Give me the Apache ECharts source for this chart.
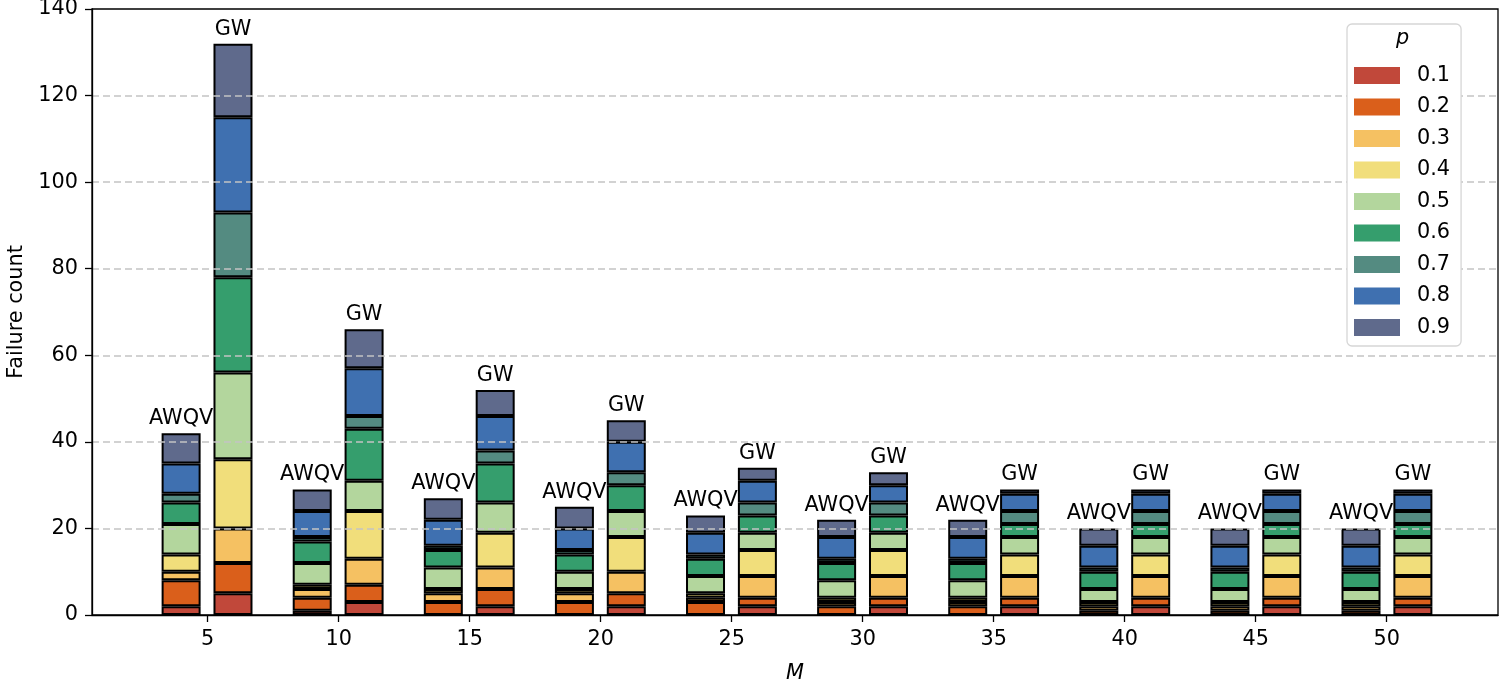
<!DOCTYPE html>
<html><head><meta charset="utf-8">
<script src="https://cdn.jsdelivr.net/npm/echarts@6/dist/echarts.min.js"></script>
<style>html,body{margin:0;padding:0;background:#fff}#c{width:1499px;height:685px}</style>
</head><body><div id="c"></div>
<script>
const M = [5, 10, 15, 20, 25, 30, 35, 40, 45, 50];
const pLevels = ['0.1', '0.2', '0.3', '0.4', '0.5', '0.6', '0.7', '0.8', '0.9'];
const colors = ['#c1483a', '#da5f1b', '#f5c162', '#f1de7b', '#b3d69d', '#359e6d', '#548b81', '#3f70b0', '#5f6a8c'];

// AWQV failure counts per p level (over M)
const awqv_p01 = [2, 1, 0, 0, 0, 0, 0, 0, 0, 0];
const awqv_p02 = [6, 3, 3, 3, 3, 2, 2, 1, 1, 1];
const awqv_p03 = [2, 2, 2, 2, 1, 1, 1, 1, 1, 1];
const awqv_p04 = [4, 1, 1, 1, 1, 1, 1, 1, 1, 1];
const awqv_p05 = [7, 5, 5, 4, 4, 4, 4, 3, 3, 3];
const awqv_p06 = [5, 5, 4, 4, 4, 4, 4, 4, 4, 4];
const awqv_p07 = [2, 1, 1, 1, 1, 1, 1, 1, 1, 1];
const awqv_p08 = [7, 6, 6, 5, 5, 5, 5, 5, 5, 5];
const awqv_p09 = [7, 5, 5, 5, 4, 4, 4, 4, 4, 4];

// GW failure counts per p level (over M)
const gw_p01 = [5, 3, 2, 2, 2, 2, 2, 2, 2, 2];
const gw_p02 = [7, 4, 4, 3, 2, 2, 2, 2, 2, 2];
const gw_p03 = [8, 6, 5, 5, 5, 5, 5, 5, 5, 5];
const gw_p04 = [16, 11, 8, 8, 6, 6, 5, 5, 5, 5];
const gw_p05 = [20, 7, 7, 6, 4, 4, 4, 4, 4, 4];
const gw_p06 = [22, 12, 9, 6, 4, 4, 3, 3, 3, 3];
const gw_p07 = [15, 3, 3, 3, 3, 3, 3, 3, 3, 3];
const gw_p08 = [22, 11, 8, 7, 5, 4, 4, 4, 4, 4];
const gw_p09 = [17, 9, 6, 5, 3, 3, 1, 1, 1, 1];

const awqvAll = [awqv_p01, awqv_p02, awqv_p03, awqv_p04, awqv_p05, awqv_p06, awqv_p07, awqv_p08, awqv_p09];
const gwAll = [gw_p01, gw_p02, gw_p03, gw_p04, gw_p05, gw_p06, gw_p07, gw_p08, gw_p09];
const yTicks = [0, 20, 40, 60, 80, 100, 120, 140];

const FONT = 'DejaVu Sans';
const FS = 20.8;
const series = [];
function addStack(all, stack, labelText) {
  all.forEach((vals, i) => {
    const s = {
      name: pLevels[i], type: 'bar', stack: stack,
      xAxisIndex: 1, yAxisIndex: 1,
      barWidth: 39, barGap: '33%',
      data: vals.slice(),
      itemStyle: { color: colors[i], borderColor: '#000', borderWidth: 2 },
      emphasis: { disabled: true }
    };
    if (i === all.length - 1) {
      s.label = { show: true, position: 'top', distance: 4, formatter: labelText,
        color: '#000', fontSize: FS, fontFamily: FONT };
    }
    series.push(s);
  });
}
addStack(awqvAll, 'AWQV', 'AWQV');
addStack(gwAll, 'GW', 'GW');

const chart = echarts.init(document.getElementById('c'), null, { renderer: 'canvas' });
chart.setOption({
  animation: false,
  textStyle: { fontFamily: FONT },
  grid: [
    { left: 92, right: 1, top: 9, bottom: 70, show: true, borderColor: '#000', borderWidth: 1.3,
      backgroundColor: 'transparent', outerBoundsMode: 'none', containLabel: false },
    { left: 141.5, right: 46.5, top: 9, bottom: 70, show: false, outerBoundsMode: 'none', containLabel: false }
  ],
  title: { text: 'p', left: 1396, top: 28, padding: 0,
    textStyle: { fontStyle: 'italic', fontWeight: 'normal', fontSize: FS, color: '#000', fontFamily: FONT } },
  legend: {
    data: pLevels, orient: 'vertical', left: 1347, top: 24,
    itemWidth: 46, itemHeight: 17, itemGap: 10.5, icon: 'rect',
    padding: [41, 11, 8, 7],
    backgroundColor: '#fff', borderColor: '#d6d6d6', borderWidth: 1.3, borderRadius: 5,
    itemStyle: { borderWidth: 0 },
    textStyle: { fontSize: FS, color: '#000', fontFamily: FONT, padding: [0, 0, 0, 12] },
    selectedMode: false
  },
  xAxis: [
    {
      gridIndex: 0, type: 'value', min: 0.584, max: 54.25, z: 4,
      name: 'M', nameLocation: 'middle', nameGap: 48,
      nameTextStyle: { fontStyle: 'italic', fontSize: FS, color: '#000', fontFamily: FONT },
      axisLine: { show: true, lineStyle: { color: '#000', width: 1.3 } },
      axisTick: { show: true, length: 7, lineStyle: { color: '#000', width: 1.3 }, customValues: M },
      axisLabel: { fontSize: FS, color: '#000', margin: 14, fontFamily: FONT, customValues: M },
      splitLine: { show: false }
    },
    {
      gridIndex: 1, type: 'category', data: M.map(String),
      show: false, axisLine: { show: false }, axisTick: { show: false }, axisLabel: { show: false }
    }
  ],
  yAxis: [
    {
      gridIndex: 0, type: 'value', min: 0, max: 140, interval: 20, z: 3,
      name: 'Failure count', nameLocation: 'middle', nameGap: 62, nameRotate: 90,
      nameTextStyle: { fontSize: FS, color: '#000', fontFamily: FONT },
      axisLine: { show: true, lineStyle: { color: '#000', width: 1.3 } },
      axisTick: { show: true, length: 7, lineStyle: { color: '#000', width: 1.3 } },
      axisLabel: { fontSize: FS, color: '#000', margin: 14, fontFamily: FONT, customValues: yTicks },
      splitLine: { show: true, showMinLine: false, showMaxLine: false,
        lineStyle: { color: '#c4c4c4', width: 1.5, type: [7, 4] } }
    },
    {
      gridIndex: 1, type: 'value', min: 0, max: 140, interval: 20, show: false,
      splitLine: { show: false }, axisLabel: { show: false }, axisTick: { show: false }, axisLine: { show: false }
    }
  ],
  series: series
});
</script>
</body></html>
